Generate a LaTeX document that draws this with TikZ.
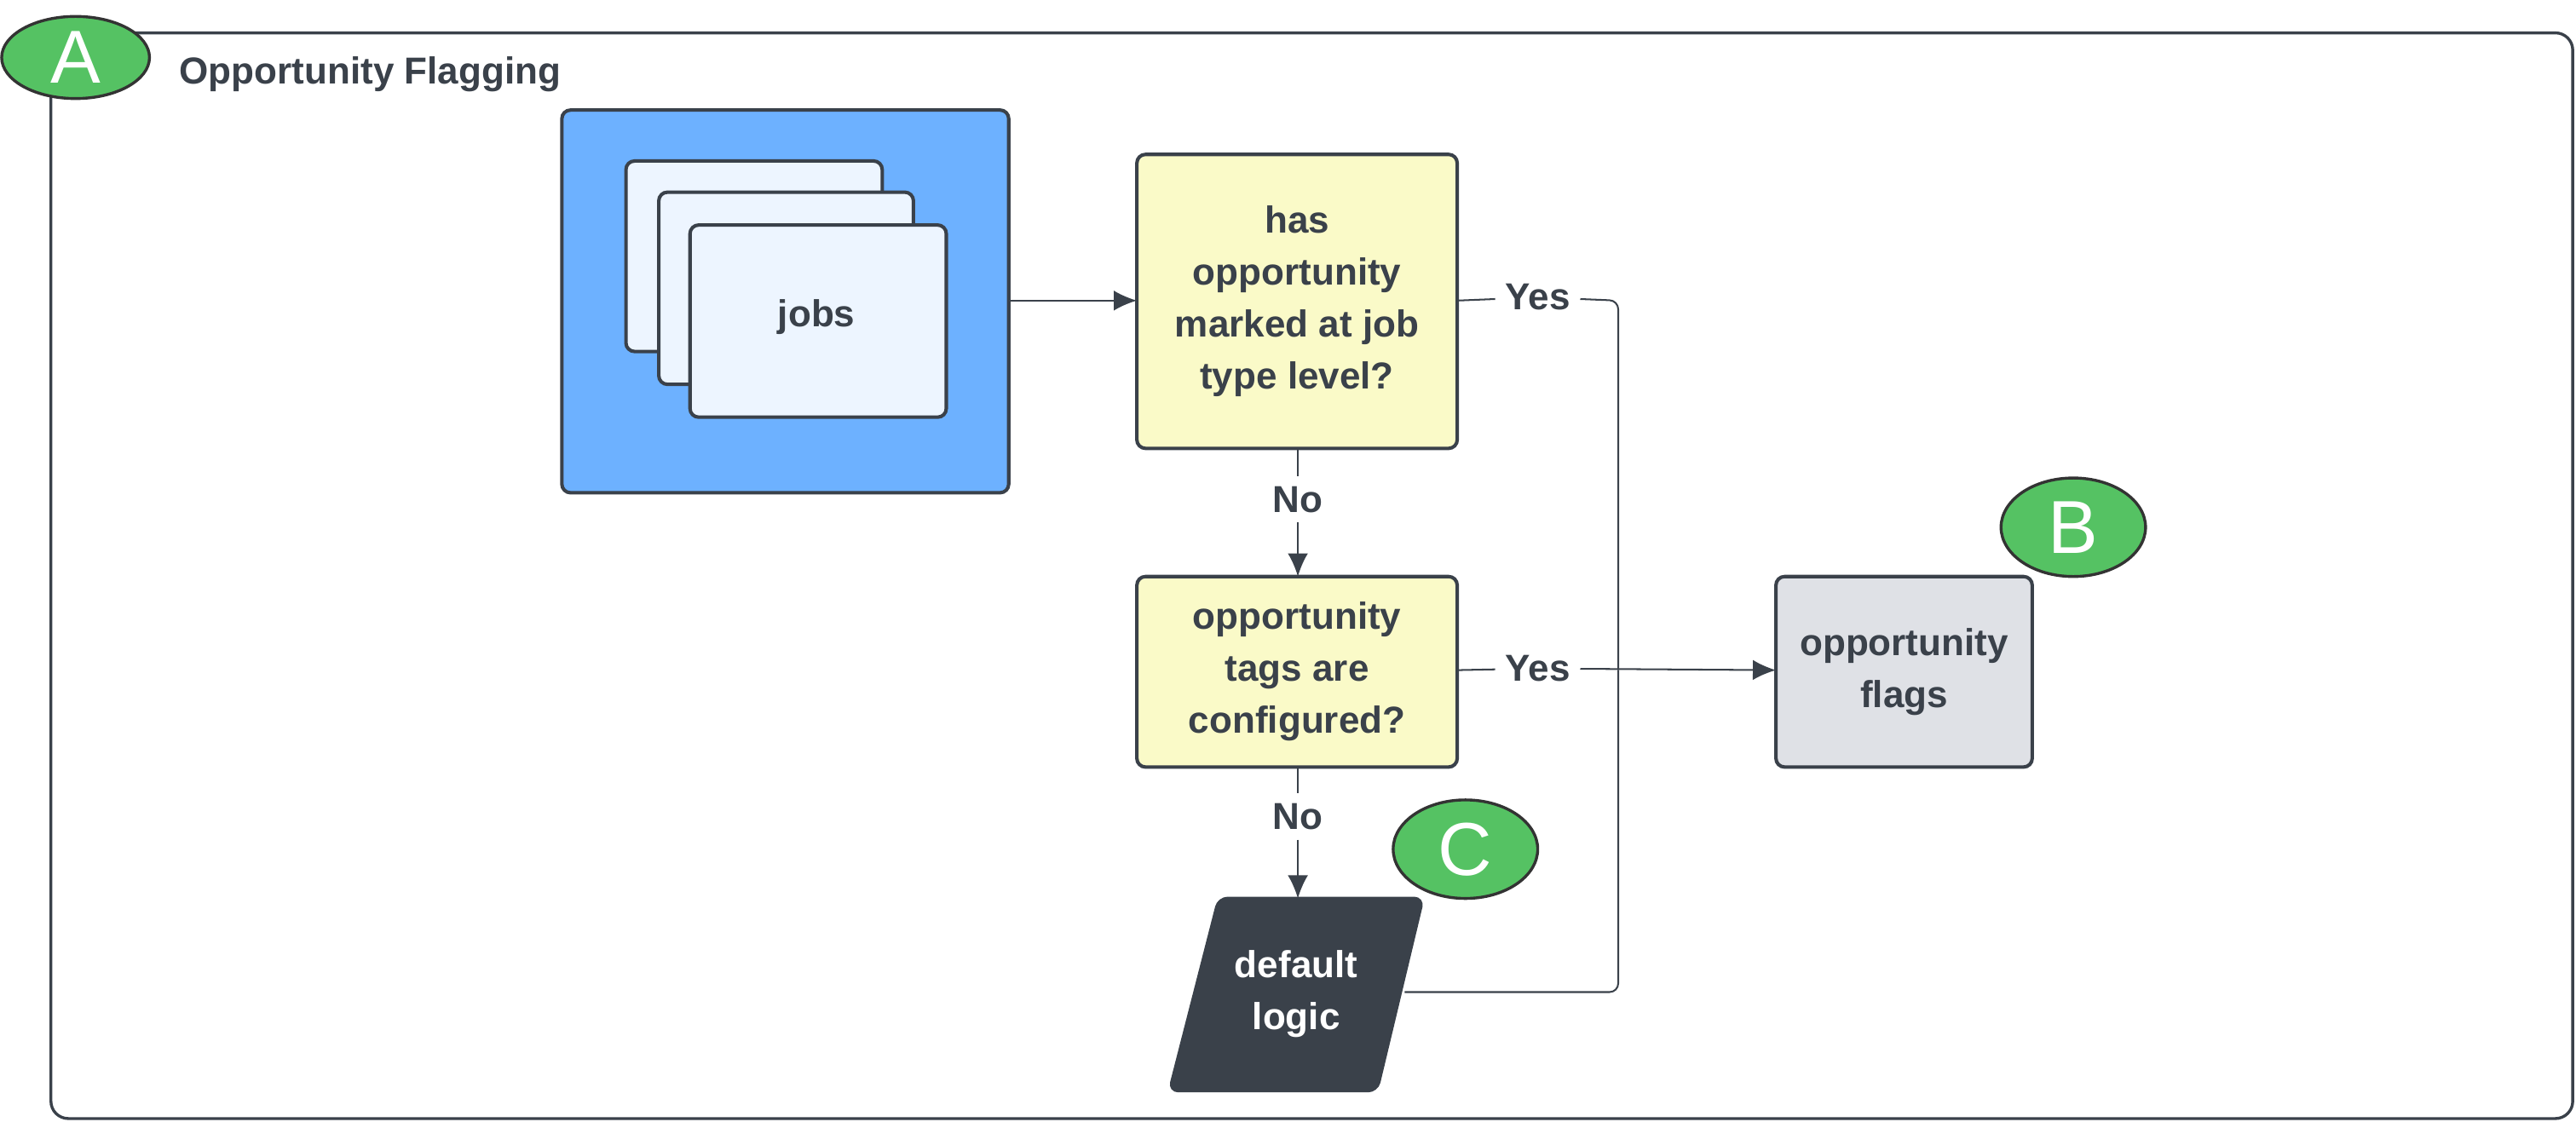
\documentclass[tikz,border=0pt]{standalone}
\usepackage{fontspec}
\setmainfont{Liberation Sans}
\usetikzlibrary{arrows.meta,shapes.geometric}
\definecolor{ink}{HTML}{3A414A}
\definecolor{badge}{HTML}{55C263}
\definecolor{jobblue}{HTML}{6DB1FF}
\definecolor{cardfill}{HTML}{EDF5FF}
\definecolor{qfill}{HTML}{FAFAC8}
\definecolor{flagfill}{HTML}{DFE1E6}
\begin{document}
\begin{tikzpicture}[x=0.02cm, y=-0.02cm,
  every node/.style={font=\bfseries\fontsize{13}{16}\selectfont, text=ink},
  box/.style={draw=ink, line width=1.2pt, rounded corners=3pt},
  badge/.style={ellipse, draw=black!80, line width=1pt, fill=badge, text=white,
    minimum width=1.76cm, minimum height=1.2cm, inner sep=0pt,
    font=\fontsize{26}{26}\selectfont},
  link/.style={draw=ink, line width=0.6pt},
  tip/.style={-{Latex[length=8pt,width=7pt]}}]

\useasboundingbox (0,0) rectangle (1568,683);

% outer frame
\draw[box, line width=1pt, rounded corners=6pt] (31,20) rectangle (1566,681);
\node[badge, minimum width=1.8cm, minimum height=1cm] (badgeA) at (46,35) {A};
\node[anchor=west] (title) at (103,45) {Opportunity Flagging};

% jobs group
\draw[box, fill=jobblue] (342,67) rectangle (614,300);
\draw[box, fill=cardfill] (381,98) rectangle (537,214);
\draw[box, fill=cardfill] (401,117) rectangle (556,234);
\draw[box, fill=cardfill] (420,137) rectangle (576,254);
\node (jobs) at (497,193) {jobs};
\coordinate (jobsout) at (614,183);

% decisions
\draw[box, fill=qfill] (692,94) rectangle (887,273);
\node[align=center] (q1) at (789.5,183.5) {has\\[2pt]opportunity\\[2pt]marked at job\\[2pt]type level?};
\draw[box, fill=qfill] (692,351) rectangle (887,467);
\node[align=center] (q2) at (789.5,409) {opportunity\\[2pt]tags are\\[2pt]configured?};

% default logic
\draw[box, fill=ink] (742,547) -- (866,547) -- (838,664) -- (712,664) -- cycle;
\node[align=center, text=white] (deflt) at (789,605) {default\\[2pt]logic};
\node[badge] (badgeC) at (892,517) {C};

% flags
\draw[box, fill=flagfill] (1081,351) rectangle (1237,467);
\node[align=center] (flags) at (1159,409) {opportunity\\[2pt]flags};
\node[badge] (badgeB) at (1262,321) {B};

% connectors
\draw[link, tip] (jobsout) -- (692,183);
\node (no1) at (790,304) {No};
\draw[link] (790,273) -- (no1);
\draw[link, tip] (no1) -- (790,351);
\node (no2) at (790,497) {No};
\draw[link] (790,467) -- (no2);
\draw[link, tip] (no2) -- (790,547);

\node (yes1) at (936,181) {Yes};
\node (yes2) at (936,407) {Yes};
\coordinate (merge) at (985,408);
\draw[link] (887,183) -- (yes1);
\draw[link, rounded corners=3pt] (yes1) -- (985,183) -- (merge);
\draw[link, rounded corners=3pt] (855,604) -- (985,604) -- (merge);
\draw[link] (887,408) -- (yes2);
\draw[link, tip] (yes2) -- (1081,408);

\end{tikzpicture}
\end{document}
